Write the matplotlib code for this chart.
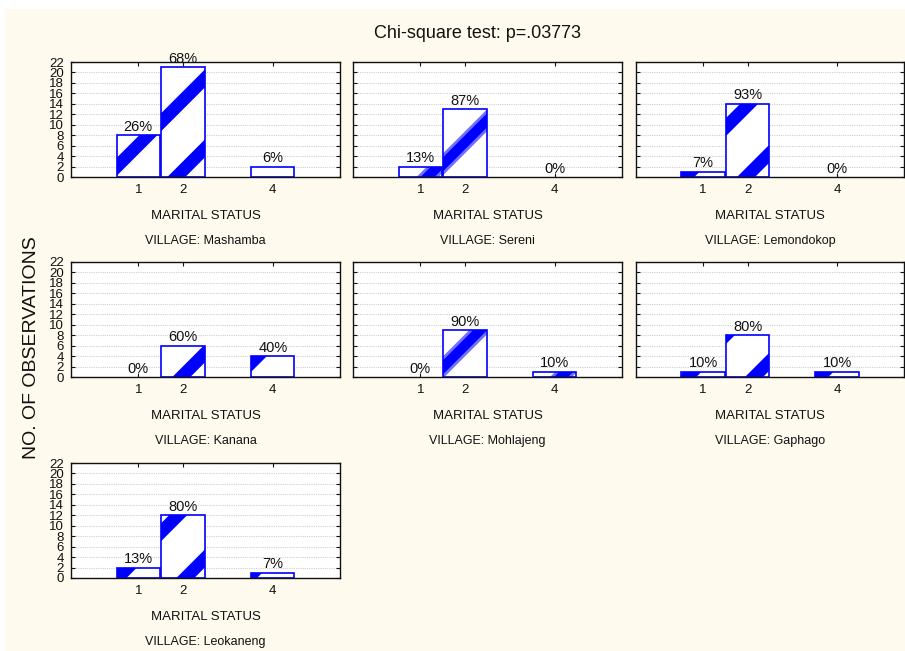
import numpy as np
import matplotlib.pyplot as plt
from matplotlib.patches import Polygon, Rectangle
from matplotlib.transforms import IdentityTransform

plt.rcParams['font.family'] = ['Liberation Sans', 'DejaVu Sans']

# data: counts per marital status for each village
status = [1, 2, 4]
villages = ['Mashamba', 'Sereni', 'Lemondokop', 'Kanana', 'Mohlajeng', 'Gaphago', 'Leokaneng']
mashamba = [8, 21, 2]
sereni = [2, 13, 0]
lemondokop = [1, 14, 0]
kanana = [0, 6, 4]
mohlajeng = [0, 9, 1]
gaphago = [1, 8, 1]
leokaneng = [2, 12, 1]
counts = [mashamba, sereni, lemondokop, kanana, mohlajeng, gaphago, leokaneng]
yticks = list(range(0, 23, 2))
title = 'Chi-square test: p=.03773'

# stripe fill style: offset (px) of a diagonal band from each bar's lower-left corner
stripe_offset = [[-10, 15, None], [29, -13, None], [4, 20, None], [None, 20, -14],
                 [None, -10, 28], [6, 28, 4], [1, 24, -3]]
soft = [False, True, False, False, True, False, False]
PERIOD = 70
BAND = 18

BLUE = '#0000ff'
CREAM = '#fefaee'
W, H = 905, 651

fig = plt.figure(figsize=(W / 100, H / 100), dpi=100, facecolor='white')
fig.patches.append(Rectangle((5 / W, 0), 1, (H - 9) / H, transform=fig.transFigure,
                             facecolor=CREAM, edgecolor='none', zorder=-10))

cols = [(71, 340), (353, 622), (636, 904)]
rows = [(62, 177), (262, 377), (463, 578)]


def add_stripes(ax, bar, d0, soft_band):
    (x0, y0), (x1, y1) = ax.transData.transform(
        [(bar.get_x(), bar.get_y()), (bar.get_x() + bar.get_width(), bar.get_y() + bar.get_height())])
    u0 = x0 - y0  # lines x - y = const run up-right at 45 deg
    lo, hi = y0 - 20, y1 + 20
    k = d0
    while k - PERIOD > -(y1 - y0) - BAND:
        k -= PERIOD
    widths = [(BAND + 4, '#7070ff'), (BAND - 4, BLUE)] if soft_band else [(BAND, BLUE)]
    while k < (x1 - x0) + BAND:
        for bw, col in widths:
            k1, k2 = u0 + k - bw / 2, u0 + k + bw / 2
            poly = Polygon([(lo + k1, lo), (lo + k2, lo), (hi + k2, hi), (hi + k1, hi)],
                           closed=True, transform=IdentityTransform(), facecolor=col,
                           edgecolor='none', zorder=2.2)
            ax.add_patch(poly)
            poly.set_clip_path(bar)
        k += PERIOD


for i, (name, vals) in enumerate(zip(villages, counts)):
    r, c = divmod(i, 3)
    left, right = cols[c]
    top, bottom = rows[r]
    ax = fig.add_axes([left / W, 1 - bottom / H, (right - left) / W, (bottom - top) / H])
    ax.set_xlim(-0.5, 5.5)
    ax.set_ylim(0, 22)
    ax.set_xticks(status)
    ax.set_yticks(yticks)
    ax.set_axisbelow(True)
    ax.yaxis.grid(True, color='#cfcfcf', linestyle=(0, (1, 1)), linewidth=0.8)
    ax.tick_params(direction='in', length=3, width=0.8, top=True, right=True,
                   labelsize=9.5, colors='#111111', pad=5)
    ax.tick_params(axis='y', pad=5)
    if c != 0:
        ax.set_yticklabels([])
    for sp in ax.spines.values():
        sp.set_linewidth(1.0)
        sp.set_color('#111111')

    edges = [BLUE if v > 0 else 'none' for v in vals]
    bars = ax.bar(status, vals, width=0.97, color='white', edgecolor='none', zorder=2)
    for b, d0, v in zip(bars, stripe_offset[i], vals):
        if v > 0 and d0 is not None:
            add_stripes(ax, b, d0, soft[i])
    ax.bar(status, vals, width=0.97, fill=False, edgecolor=edges, linewidth=1.2, zorder=2.5)

    total = sum(vals)
    for x, v in zip(status, vals):
        ax.annotate(f'{round(100 * v / total)}%', (x, v), xytext=(0, 1),
                    textcoords='offset points', ha='center', va='bottom',
                    fontsize=10.5, color='#111111', zorder=4)

    cx = (left + right) / 2 / W
    fig.text(cx, 1 - (bottom + 39) / H, 'MARITAL STATUS', ha='center', va='center',
             fontsize=9.5, color='#111111')
    fig.text(cx, 1 - (bottom + 64) / H, f'VILLAGE: {name}', ha='center', va='center',
             fontsize=9, color='#111111')

fig.text(477.5 / W, 1 - 33 / H, title, ha='center', va='center', fontsize=13, color='#111111')
fig.text(32 / W, 1 - 348 / H, 'NO. OF OBSERVATIONS', rotation=90, ha='center', va='center',
         fontsize=14, color='#111111')

fig.savefig('out.png', dpi=100, facecolor=fig.get_facecolor())
